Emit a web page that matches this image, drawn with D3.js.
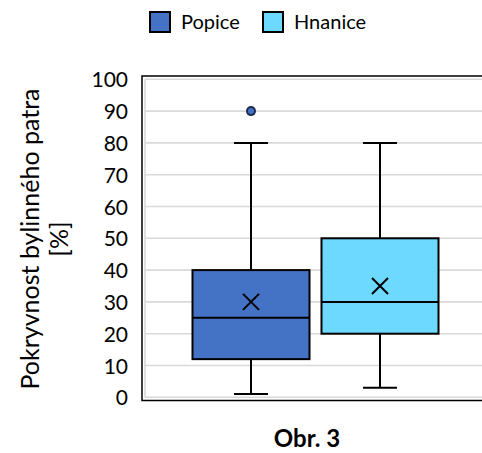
<!DOCTYPE html>
<html>
<head>
<meta charset="utf-8">
<script src="https://cdn.jsdelivr.net/npm/d3@7"></script>
<style>
  body { margin: 0; background: #fff; }
  svg { display: block; font-family: Lato, "Open Sans", sans-serif; }
</style>
</head>
<body>
<div id="chart"></div>
<script>
// box plot data (% cover of herb layer)
const series = ['Popice', 'Hnanice'];
const colors = ['#4472c4', '#6dd9ff'];
const mins = [1, 3];
const q1s = [12, 20];
const medians = [25, 30];
const q3s = [40, 50];
const maxs = [80, 80];
const means = [30, 35];
const outliers = [[90], []];
const yTicks = [0, 10, 20, 30, 40, 50, 60, 70, 80, 90, 100];

const w = 482, h = 453;

const svg = d3.select('#chart')
  .append('svg')
  .attr('width', w)
  .attr('height', h);

const y = d3.scaleLinear().domain([0, 100]).range([397.3, 79.3]);
const x = d3.scaleBand().domain(series).range([192.5, 438.5]).paddingInner(0.093);

// outer frame
svg.append('rect')
  .attr('x', 142).attr('y', 76)
  .attr('width', 360).attr('height', 324.5)
  .attr('fill', 'none')
  .attr('stroke', '#000')
  .attr('stroke-width', 1.5);

// gridlines
svg.append('g')
  .selectAll('line')
  .data(yTicks)
  .join('line')
  .attr('x1', 145).attr('x2', 490)
  .attr('y1', d => y(d)).attr('y2', d => y(d))
  .attr('stroke', '#d9d9d9')
  .attr('stroke-width', 1.6);

svg.append('line')
  .attr('x1', 145).attr('x2', 145)
  .attr('y1', y(100)).attr('y2', y(0))
  .attr('stroke', '#d9d9d9')
  .attr('stroke-width', 1.6);

// y axis labels
const yAxis = d3.axisLeft(y).tickValues(yTicks).tickSize(0).tickPadding(0);
const gy = svg.append('g')
  .attr('transform', 'translate(128,0)')
  .call(yAxis);
gy.select('.domain').remove();
gy.selectAll('text')
  .attr('font-size', 21)
  .attr('font-family', 'Lato, sans-serif')
  .attr('fill', '#000')
  .attr('dy', '0.36em');

// y title
const yt = svg.append('text')
  .attr('transform', 'translate(39,239) rotate(-90)')
  .attr('text-anchor', 'middle')
  .attr('font-size', 25);
yt.append('tspan').attr('x', 0).attr('y', 0).text('Pokryvnost bylinného patra');
yt.append('tspan').attr('x', 0).attr('y', 29).text('[%]');

// boxes
const boxes = svg.append('g')
  .selectAll('g')
  .data(series)
  .join('g');

const cx = d => x(d) + x.bandwidth() / 2;
const capW = 34;

// whiskers
boxes.append('line')
  .attr('x1', cx).attr('x2', cx)
  .attr('y1', (d, i) => y(maxs[i])).attr('y2', (d, i) => y(q3s[i]))
  .attr('stroke', '#000').attr('stroke-width', 2);
boxes.append('line')
  .attr('x1', cx).attr('x2', cx)
  .attr('y1', (d, i) => y(q1s[i])).attr('y2', (d, i) => y(mins[i]))
  .attr('stroke', '#000').attr('stroke-width', 2);
boxes.append('line')
  .attr('x1', d => cx(d) - capW / 2).attr('x2', d => cx(d) + capW / 2)
  .attr('y1', (d, i) => y(maxs[i])).attr('y2', (d, i) => y(maxs[i]))
  .attr('stroke', '#000').attr('stroke-width', 2);
boxes.append('line')
  .attr('x1', d => cx(d) - capW / 2).attr('x2', d => cx(d) + capW / 2)
  .attr('y1', (d, i) => y(mins[i])).attr('y2', (d, i) => y(mins[i]))
  .attr('stroke', '#000').attr('stroke-width', 2);

boxes.append('rect')
  .attr('x', d => x(d))
  .attr('width', x.bandwidth())
  .attr('y', (d, i) => y(q3s[i]))
  .attr('height', (d, i) => y(q1s[i]) - y(q3s[i]))
  .attr('fill', (d, i) => colors[i])
  .attr('stroke', '#000')
  .attr('stroke-width', 2);

// median
boxes.append('line')
  .attr('x1', d => x(d)).attr('x2', d => x(d) + x.bandwidth())
  .attr('y1', (d, i) => y(medians[i])).attr('y2', (d, i) => y(medians[i]))
  .attr('stroke', '#000').attr('stroke-width', 2);

// mean marker (x)
const mk = 8;
boxes.append('path')
  .attr('d', (d, i) => {
    const px = cx(d), py = y(means[i]);
    return `M${px - mk},${py - mk}L${px + mk},${py + mk}M${px - mk},${py + mk}L${px + mk},${py - mk}`;
  })
  .attr('stroke', '#000').attr('stroke-width', 2).attr('fill', 'none');

// outliers
boxes.each(function(d, i) {
  d3.select(this).selectAll('circle')
    .data(outliers[i])
    .join('circle')
    .attr('cx', cx(d))
    .attr('cy', v => y(v))
    .attr('r', 4)
    .attr('fill', colors[i])
    .attr('stroke', '#1f2d4d')
    .attr('stroke-width', 2);
});

// legend
const legX = [150, 263];
const leg = svg.append('g')
  .selectAll('g')
  .data(series)
  .join('g')
  .attr('transform', (d, i) => `translate(${legX[i]},12)`);
leg.append('rect')
  .attr('width', 20).attr('height', 20)
  .attr('fill', (d, i) => colors[i])
  .attr('stroke', '#000').attr('stroke-width', 2);
leg.append('text')
  .attr('x', 31).attr('y', 17)
  .attr('font-size', 20)
  .text(d => d);

// caption
svg.append('text')
  .attr('x', 307).attr('y', 447)
  .attr('text-anchor', 'middle')
  .attr('font-size', 24)
  .attr('font-weight', 'bold')
  .text('Obr. 3');
</script>
</body>
</html>
